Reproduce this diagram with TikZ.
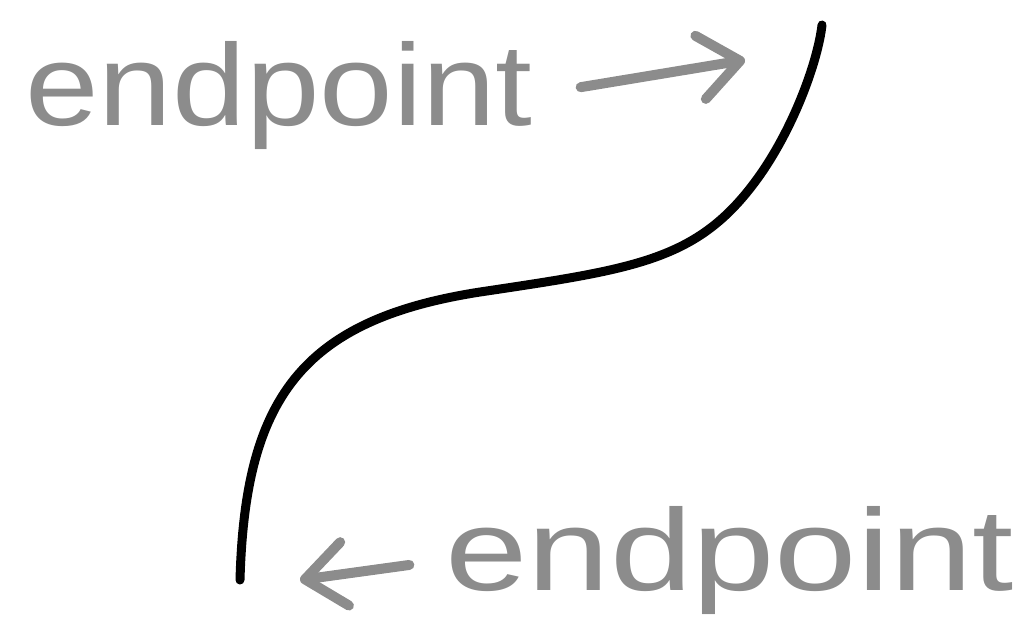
\documentclass[tikz,border=0pt]{standalone}
\usepackage{fontspec}
\setmainfont{Liberation Sans}
\usetikzlibrary{positioning, arrows.meta}
\definecolor{sketchgray}{RGB}{140,140,140}
\tikzset{>=latex,
    label text/.style={text=sketchgray, inner sep=0pt, xscale=1.14,
        font=\fontsize{58pt}{60pt}\selectfont},
    pointer/.style={draw=sketchgray, line width=5pt, line cap=round, line join=round,
        -{Straight Barb[length=20pt, width=32pt, line width=5pt, round]}},
    stroke/.style={line width=4.5pt, line cap=round}
}

\begin{document}
\begin{tikzpicture}[x=0.5pt, y=-0.5pt]
    \useasboundingbox (0,0) rectangle (1017,618);
    % curve ends
    \coordinate (curvebot) at (240,580);
    \coordinate (curvetop) at (822,25);
    % arrow tips
    \coordinate (toptip) at (745,60);
    \coordinate (bottip) at (300,580);

    \node[label text, anchor=base west] (toplabel) at (25,125) {endpoint};
    \node[label text, anchor=base west, xscale=1.12] (botlabel) at (445,590) {endpoint};

    \draw[stroke] (curvebot) .. controls (245,400) and (300,320) .. (480,292)
        .. controls (640,268) and (700,260) .. (760,175)
        .. controls (795,125) and (818,60) .. (curvetop);

    \draw[pointer, shorten <=24pt] (toplabel.east) -- (toptip);
    \draw[pointer, shorten <=18pt] (botlabel.west) -- (bottip);
\end{tikzpicture}
\end{document}
